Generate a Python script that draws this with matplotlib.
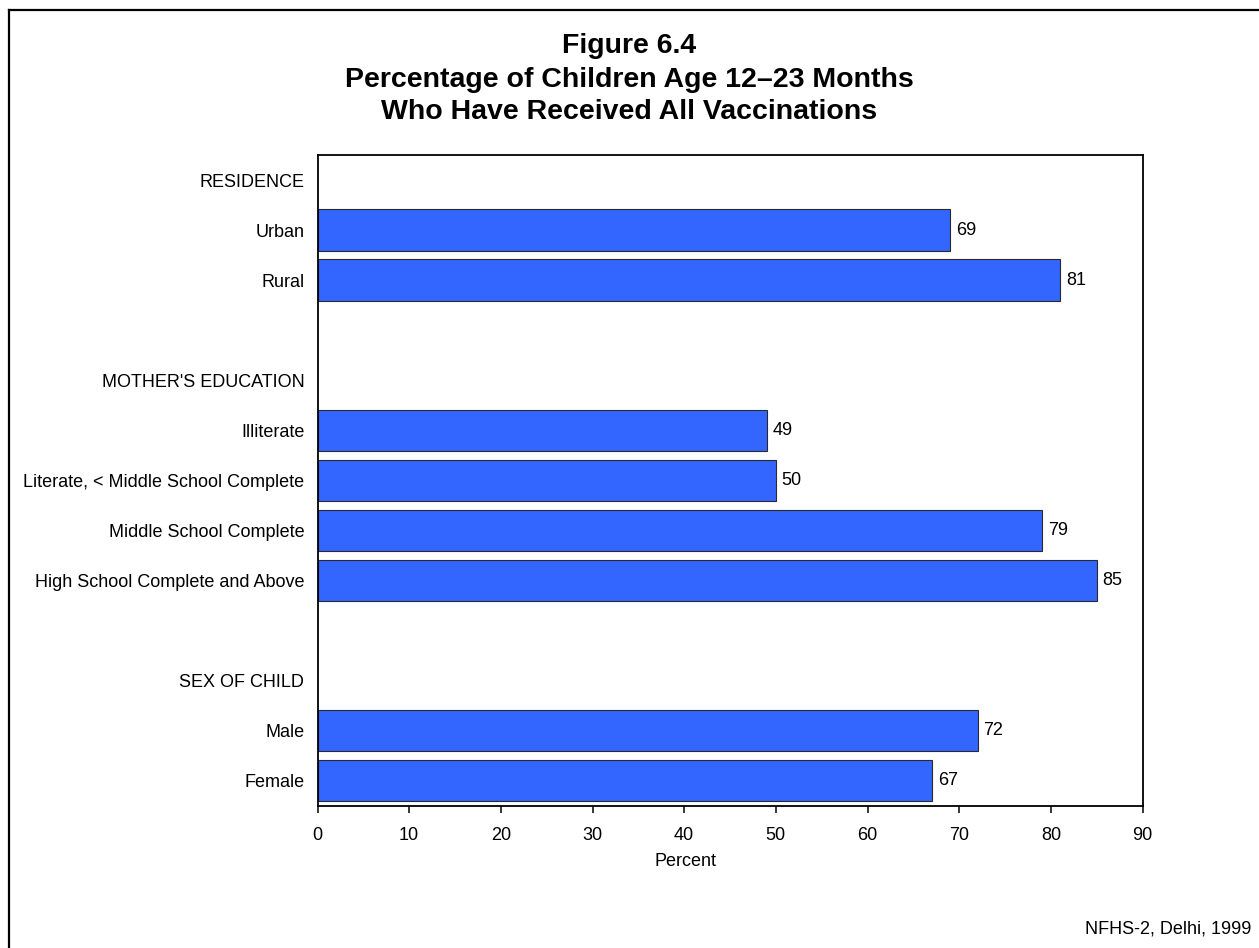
import matplotlib
matplotlib.use("Agg")
import matplotlib.pyplot as plt
from matplotlib.lines import Line2D

plt.rcParams['font.family'] = ['Liberation Sans', 'DejaVu Sans']

# rows from top to bottom; None = group header or empty row
labels = ["RESIDENCE", "Urban", "Rural", "",
          "MOTHER'S EDUCATION", "Illiterate", "Literate, < Middle School Complete",
          "Middle School Complete", "High School Complete and Above", "",
          "SEX OF CHILD", "Male", "Female"]
values = [None, 69, 81, None,
          None, 49, 50, 79, 85, None,
          None, 72, 67]
xticks = [0, 10, 20, 30, 40, 50, 60, 70, 80, 90]

title_lines = ["Figure 6.4",
               "Percentage of Children Age 12\u201323 Months",
               "Who Have Received All Vaccinations"]
source = "NFHS-2, Delhi, 1999"

W, H = 1259, 948
fs = 13
fig = plt.figure(figsize=(W / 100, H / 100), dpi=100)
ax = fig.add_axes([317.5 / W, 1 - 805.7 / H, 825 / W, (805.7 - 155) / H])

ypos = list(range(len(labels)))
bar_y = [y for y, v in zip(ypos, values) if v is not None]
bar_v = [v for v in values if v is not None]

ax.barh(bar_y, bar_v, height=0.83, color='#3366FF', edgecolor='#2a2a2a', linewidth=0.8)
for y, v in zip(bar_y, bar_v):
    ax.annotate(str(v), (v, y), xytext=(4.3, 0), textcoords='offset points',
                va='center', ha='left', fontsize=fs)

ax.set_xlim(0, 90)
ax.set_ylim(len(labels) - 0.5, -0.5)
ax.set_xticks(xticks)
ax.set_yticks(ypos)
ax.set_yticklabels(labels)
ax.tick_params(axis='y', length=0, pad=9.5, labelsize=fs)
ax.tick_params(axis='x', length=5, width=1.1, direction='out', pad=10, labelsize=fs)
for s in ax.spines.values():
    s.set_linewidth(1.3)
ax.set_xlabel("Percent", fontsize=fs)
ax.xaxis.set_label_coords((685 - 317.5) / 825, -(862 - 805.7) / 650.7)
ax.xaxis.label.set_va('center')

# title, one line at a time
for txt, base in zip(title_lines, [53, 87, 119]):
    fig.text(0.5, 1 - base / H, txt, ha='center', va='baseline',
             fontsize=20.5, fontweight='bold')

fig.text(1251 / W, 1 - 933 / H, source, ha='right', va='baseline', fontsize=fs)

# frame of the page (only top and left show)
fig.add_artist(Line2D([8.5 / W, 8.5 / W], [0, 1 - 9.5 / H], color='black', lw=1.6))
fig.add_artist(Line2D([8.5 / W, 1], [1 - 9.5 / H, 1 - 9.5 / H], color='black', lw=1.6))

fig.savefig("out.png", dpi=100)
